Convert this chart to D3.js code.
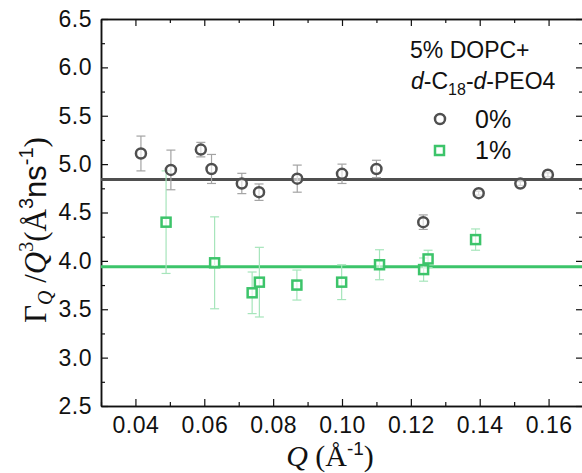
<!DOCTYPE html>
<html lang="en">
<head>
    <meta charset="UTF-8">
    <title>Relaxation rate vs Q</title>
    <script src="https://d3js.org/d3.v7.min.js"></script>
    <style>
        body { margin: 0; background: white; }
        .tick text { font: 23px "Liberation Sans", Arial, sans-serif; fill: #111; letter-spacing: 0.5px; }
        .legend { font: 23px "Liberation Sans", Arial, sans-serif; fill: #111; }
        .serif { font-family: "Liberation Serif", "Times New Roman", serif; }
    </style>
</head>
<body>
    <script>
        // Data
        const q0 = [0.0416, 0.0503, 0.059, 0.0621, 0.0709, 0.0759, 0.087, 0.100, 0.110, 0.1236, 0.1397, 0.1518, 0.1598];
        const gamma0 = [5.11, 4.94, 5.15, 4.95, 4.80, 4.71, 4.85, 4.90, 4.95, 4.40, 4.70, 4.80, 4.89];
        const err0 = [0.18, 0.205, 0.075, 0.15, 0.105, 0.085, 0.14, 0.10, 0.09, 0.075, 0.02, 0.02, 0.02];

        const q1 = [0.0489, 0.063, 0.0739, 0.076, 0.0869, 0.0999, 0.1109, 0.1237, 0.125, 0.1388];
        const gamma1 = [4.40, 3.98, 3.67, 3.78, 3.75, 3.78, 3.96, 3.91, 4.02, 4.22];
        const err1 = [0.53, 0.475, 0.215, 0.36, 0.155, 0.18, 0.155, 0.12, 0.09, 0.11];

        const fit0 = 4.84;
        const fit1 = 3.94;

        const xTicks = [0.04, 0.06, 0.08, 0.10, 0.12, 0.14, 0.16];
        const yTicks = [2.5, 3.0, 3.5, 4.0, 4.5, 5.0, 5.5, 6.0, 6.5];

        const W = 582, H = 473;
        const margin = {top: 19, right: -1, bottom: 67, left: 101};
        const width = W - margin.left - margin.right;
        const height = H - margin.top - margin.bottom;

        const darkGray = "#4f4f4f", lightGray = "#a3a3a3";
        const green = "#3cc46a", lightGreen = "#a6e5bb";

        const svg = d3.select("body")
            .append("svg")
            .attr("width", W)
            .attr("height", H);

        const g = svg.append("g")
            .attr("transform", `translate(${margin.left},${margin.top})`);

        const x = d3.scaleLinear().domain([0.03, 0.17]).range([0, width]);
        const y = d3.scaleLinear().domain([2.5, 6.5]).range([height, 0]);

        const xMinor = d3.range(0.03, 0.171, 0.01).filter(v => !xTicks.some(t => Math.abs(t - v) < 1e-6));
        const yMinor = d3.range(2.75, 6.5, 0.5);

        // Axes (ticks pointing inward)
        g.append("g")
            .attr("transform", `translate(0,${height})`)
            .call(d3.axisBottom(x).tickValues(xTicks).tickFormat(d3.format(".2f")).tickSizeInner(-7).tickSizeOuter(0).tickPadding(11))
            .call(a => a.selectAll("text").attr("dy", "0.71em"));
        g.append("g")
            .attr("transform", `translate(0,${height})`)
            .call(d3.axisBottom(x).tickValues(xMinor).tickFormat("").tickSizeInner(-4).tickSizeOuter(0));

        g.append("g")
            .call(d3.axisLeft(y).tickValues(yTicks).tickFormat(d3.format(".1f")).tickSizeInner(-7).tickSizeOuter(0).tickPadding(9));
        g.append("g")
            .call(d3.axisLeft(y).tickValues(yMinor).tickFormat("").tickSizeInner(-4).tickSizeOuter(0));

        g.append("g")
            .call(d3.axisTop(x).tickValues(xTicks).tickFormat("").tickSizeInner(-7).tickSizeOuter(0));
        g.append("g")
            .call(d3.axisTop(x).tickValues(xMinor).tickFormat("").tickSizeInner(-4).tickSizeOuter(0));

        g.append("g")
            .attr("transform", `translate(${width},0)`)
            .call(d3.axisRight(y).tickValues(yTicks).tickFormat("").tickSizeInner(-7).tickSizeOuter(0));
        g.append("g")
            .attr("transform", `translate(${width},0)`)
            .call(d3.axisRight(y).tickValues(yMinor).tickFormat("").tickSizeInner(-4).tickSizeOuter(0));

        g.selectAll(".domain").attr("stroke", "#111").attr("stroke-width", 1.5);
        g.selectAll(".tick line").attr("stroke", "#111").attr("stroke-width", 1.2);

        // Fit lines
        g.append("line")
            .attr("x1", 0).attr("x2", width)
            .attr("y1", y(fit0)).attr("y2", y(fit0))
            .attr("stroke", darkGray).attr("stroke-width", 3);
        g.append("line")
            .attr("x1", 0).attr("x2", width)
            .attr("y1", y(fit1)).attr("y2", y(fit1))
            .attr("stroke", green).attr("stroke-width", 3);

        function errorBars(qs, vals, errs, color) {
            const eb = g.append("g").attr("stroke", color).attr("stroke-width", 1.2);
            qs.forEach((q, i) => {
                const cx = x(q), top = y(vals[i] + errs[i]), bot = y(vals[i] - errs[i]);
                eb.append("line").attr("x1", cx).attr("x2", cx).attr("y1", top).attr("y2", bot);
                eb.append("line").attr("x1", cx - 4.5).attr("x2", cx + 4.5).attr("y1", top).attr("y2", top);
                eb.append("line").attr("x1", cx - 4.5).attr("x2", cx + 4.5).attr("y1", bot).attr("y2", bot);
            });
        }

        errorBars(q1, gamma1, err1, lightGreen);
        errorBars(q0, gamma0, err0, lightGray);

        // 1% squares
        g.selectAll(".sq")
            .data(q1)
            .enter()
            .append("rect")
            .attr("x", d => x(d) - 4.5)
            .attr("y", (d, i) => y(gamma1[i]) - 4.5)
            .attr("width", 9).attr("height", 9)
            .attr("fill", "white").attr("fill-opacity", 0.6)
            .attr("stroke", green).attr("stroke-width", 2.5);

        // 0% circles
        g.selectAll(".circ")
            .data(q0)
            .enter()
            .append("circle")
            .attr("cx", d => x(d))
            .attr("cy", (d, i) => y(gamma0[i]))
            .attr("r", 5)
            .attr("fill", "white").attr("fill-opacity", 0.6)
            .attr("stroke", darkGray).attr("stroke-width", 2.5);

        // Legend
        const lg = svg.append("g").attr("class", "legend");
        lg.append("text").attr("x", 410).attr("y", 58).text("5% DOPC+");
        const l2 = lg.append("text").attr("x", 411).attr("y", 89);
        l2.append("tspan").attr("font-style", "italic").text("d");
        l2.append("tspan").text("-C");
        l2.append("tspan").attr("font-size", 16).attr("dy", 6).text("18");
        l2.append("tspan").attr("dy", -6).text("-");
        l2.append("tspan").attr("font-style", "italic").text("d");
        l2.append("tspan").text("-PEO4");

        lg.append("circle").attr("cx", 440).attr("cy", 119).attr("r", 5)
            .attr("fill", "white").attr("stroke", darkGray).attr("stroke-width", 2.5);
        lg.append("text").attr("x", 475).attr("y", 128).attr("font-size", 25).text("0%");
        lg.append("rect").attr("x", 435).attr("y", 146).attr("width", 9).attr("height", 9)
            .attr("fill", "white").attr("stroke", green).attr("stroke-width", 2.5);
        lg.append("text").attr("x", 475).attr("y", 159).attr("font-size", 25).text("1%");

        // Axis titles
        const xt = svg.append("text")
            .attr("class", "serif")
            .attr("x", 330)
            .attr("y", 466)
            .attr("text-anchor", "middle")
            .attr("font-size", 30)
            .attr("fill", "#111");
        xt.append("tspan").attr("font-style", "italic").text("Q");
        xt.append("tspan").text(" (Å");
        xt.append("tspan").attr("font-family", "Liberation Sans, Arial, sans-serif").attr("font-size", 19).attr("dy", -11).text("-1");
        xt.append("tspan").attr("dy", 11).text(")");

        const yt = svg.append("text")
            .attr("class", "serif")
            .attr("transform", `translate(46,230) rotate(-90)`)
            .attr("text-anchor", "middle")
            .attr("font-size", 31)
            .attr("fill", "#111");
        yt.append("tspan").text("Γ");
        yt.append("tspan").attr("font-style", "italic").attr("font-size", 20).attr("dy", 6).text("Q");
        yt.append("tspan").attr("dy", -6).text(" /");
        yt.append("tspan").attr("font-style", "italic").text("Q");
        yt.append("tspan").attr("font-size", 20).attr("dy", -13).text("3");
        yt.append("tspan").attr("dy", 13).text("(Å");
        yt.append("tspan").attr("font-family", "Liberation Sans, Arial, sans-serif").attr("font-size", 20).attr("dy", -13).text("3");
        yt.append("tspan").attr("font-family", "Liberation Sans, Arial, sans-serif").attr("dy", 13).text("ns");
        yt.append("tspan").attr("font-family", "Liberation Sans, Arial, sans-serif").attr("font-size", 20).attr("dy", -13).text("-1");
        yt.append("tspan").attr("dy", 13).text(")");
    </script>
</body>
</html>
